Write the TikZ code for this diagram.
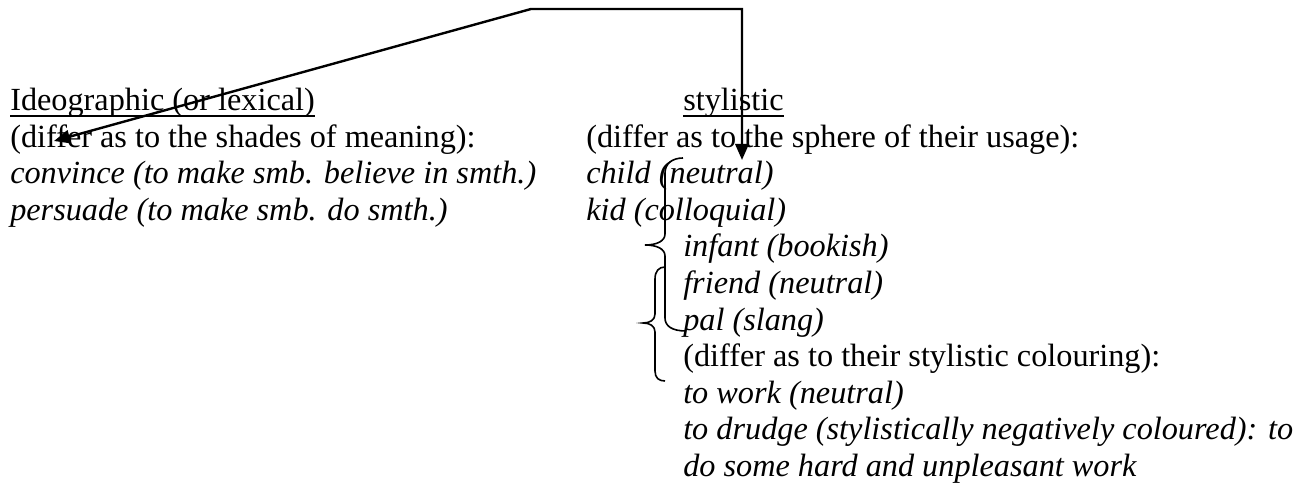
\documentclass[tikz,border=0pt]{standalone}
\usepackage{fontspec}
\setmainfont{Liberation Serif}
\usetikzlibrary{arrows.meta}
\begin{document}
\begin{tikzpicture}[x=0.75pt,y=-0.75pt,
  txt/.style={anchor=base west,inner sep=0pt,font=\fontsize{24.2}{27}\selectfont},
  it/.style={anchor=base west,inner sep=0pt,font=\fontsize{24.2}{27}\selectfont\itshape},
  conn/.style={line width=1.8pt,line join=miter,{Triangle[length=12pt,width=10pt]}-{Triangle[length=12pt,width=10pt]}},
  brace/.style={line width=1.2pt},
  uline/.style={line width=1.4pt}]
\useasboundingbox (0,0) rectangle (1308,484);
% left column
\node[txt] (ideo) at (10,111) {Ideographic (or lexical)};
\node[txt] (l2) at (10,147.5) {(differ as to the shades of meaning):};
\node[it] (l3) at (10,184) {convince (to make smb. believe in smth.)};
\node[it] (l4) at (10,220.5) {persuade (to make smb. do smth.)};
% right column
\node[txt] (sty) at (683,111) {stylistic};
\node[txt] (r2) at (586,147.5) {(differ as to the sphere of their usage):};
\node[it] (r3) at (586,184) {child (neutral)};
\node[it] (r4) at (586,220.5) {kid (colloquial)};
\node[it] (r5) at (683,257) {infant (bookish)};
\node[it] (r6) at (683,293.5) {friend (neutral)};
\node[it] (r7) at (683,330) {pal (slang)};
\node[txt] (r8) at (683,366.5) {(differ as to their stylistic colouring):};
\node[it] (r9) at (683,403) {to work (neutral)};
\node[it] (r10) at (683,439.5) {to drudge (stylistically negatively coloured): to};
\node[it] (r11) at (683,476) {do some hard and unpleasant work};
% underlines
\draw[uline] ([yshift=-3.5pt]ideo.base west) -- ([yshift=-3.5pt]ideo.base east);
\draw[uline] ([yshift=-3.5pt]sty.base west) -- ([yshift=-3.5pt]sty.base east);
% connector
\coordinate (k1) at (531,9);
\coordinate (k2) at (742,9);
\coordinate (t1) at (54,141);
\coordinate (t2) at (742,160);
\draw[conn] (t1) -- (k1) -- (k2) -- (t2);
% braces
\draw[brace] (683,158) .. controls (672,158) and (665,164) .. (665,173) -- (665,234)
  .. controls (665,241) and (657,245) .. (645,245)
  .. controls (657,245) and (665,249) .. (665,256) -- (665,318)
  .. controls (665,326) and (672,331) .. (686,331);
\draw[brace] (665,267) .. controls (659,267) and (655,271) .. (655,279) -- (655,314)
  .. controls (655,320) and (650,323) .. (643,323)
  .. controls (650,323) and (655,326) .. (655,332) -- (655,371)
  .. controls (655,378) and (659,381) .. (665,381);
\end{tikzpicture}
\end{document}
